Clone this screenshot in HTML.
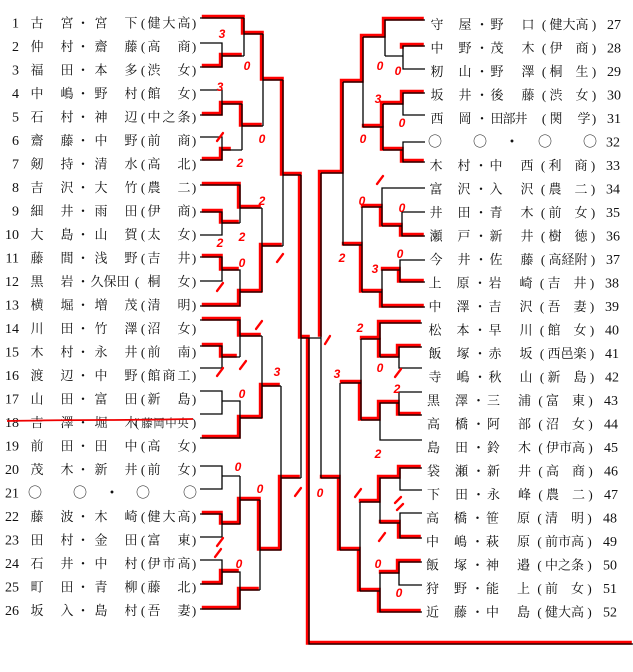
<!DOCTYPE html>
<html><head><meta charset="utf-8">
<style>
html,body{margin:0;padding:0;background:#fff;}
svg{display:block;}
</style></head>
<body>
<svg width="633" height="672" viewBox="0 0 633 672" xmlns="http://www.w3.org/2000/svg">
<rect width="633" height="672" fill="#fff"/>

<!-- red winner lines -->
<g fill="none" stroke="#f00" stroke-width="4" transform="translate(-1.2,-1.2)">
<polyline points="203,18 244,18 244,34 263,34 263,80 283,80 283,175 301,175 301,338 309,338 309,644 633,644"/>
<polyline points="203,67 222,67 222,56 243,56"/>
<polyline points="203,115 222,115 222,104 242,104 242,126 263,126"/>
<polyline points="203,160 222,160 222,150 232,150"/>
<polyline points="203,185 240,185 240,208 262,208"/>
<polyline points="203,212 222,212 222,223 240,223"/>
<polyline points="203,257 222,257 222,270 240,270"/>
<polyline points="203,306 240,306 240,292 262,292 262,246 283,246"/>
<polyline points="203,320 240,320 240,336 262,336"/>
<polyline points="203,346 222,346 222,357 238,357"/>
<polyline points="203,438 240,438 240,418 262,418 262,386 281,386"/>
<polyline points="203,514 222,514 222,524 240,524 240,500 260,500 260,550 281,550 281,478 301,478"/>
<polyline points="203,584 222,584 222,572 240,572"/>
<polyline points="203,609 240,609 240,590 260,590"/>

<polyline points="425,20 385,20 385,37 363,37 363,82 343,82 343,173 321,173 321,338"/>
<polyline points="425,46 403,46 403,50"/>
<polyline points="425,93 403,93 403,104 383,104 383,127 363,127"/>
<polyline points="425,162 403,162 403,150 383,150 383,127"/>
<polyline points="425,236 402,236 402,226 382,226 382,207 362,207"/>
<polyline points="425,282 400,282 400,270 382,270"/>
<polyline points="425,307 382,307 382,292 362,292 362,245 343,245"/>
<polyline points="422,323 380,323 380,339 361,339"/>
<polyline points="422,347 399,347 399,357 380,357 380,339"/>
<polyline points="422,415 399,415 399,403 380,403 380,420 361,420 361,383 341,383"/>
<polyline points="422,468 400,468 400,478 380,478 380,502 360,502"/>
<polyline points="422,538 400,538 400,523 380,523"/>
<polyline points="422,562 399,562 399,573 380,573"/>
<polyline points="422,612 380,612 380,591 360,591 360,550 340,550 340,478 321,478"/>
</g>

<!-- black bracket lines -->
<path fill="none" stroke="#000" stroke-width="1.3" d="
M200 18H244 M200 43H222V67H200 M222 56H244 M244 18V56 M244 34H263
M200 90H222V115H200 M222 104H242 M200 137H222V160H200 M222 150H242 M242 104V150 M242 126H263
M263 34V126 M263 80H283 M283 80V246 M283 175H301
M200 185H240V223 M200 212H222V235H200 M222 223H240 M240 208H262
M200 257H222V281H200 M222 270H240V306H200 M240 292H262 M262 208V292 M262 246H283
M200 320H240V357 M200 346H222V368H200 M222 357H240 M240 336H262
M200 391H222V414H200 M222 401H240V438H200 M240 418H262 M262 336V418 M262 386H281
M200 466H222V489H200 M222 476H240 M200 514H222V537H200 M222 524H240 M240 476V524 M240 500H260
M200 560H222V584H200 M222 572H240V609H200 M240 590H260 M260 500V590 M260 550H281 M281 386V550 M281 478H301
M301 175V478 M301 338H321 M309 338V644H633
M425 20H385V56 M425 46H403V69H425 M403 56H385 M385 37H363
M425 93H403V115H425 M403 104H383 M425 142H403V162H425 M403 150H383 M383 104V150 M383 127H363 M363 37V127 M363 82H343
M343 82V245 M343 173H321
M425 188H382V226 M425 212H402V236H425 M402 226H382 M382 207H362
M425 260H400V282H425 M400 270H382V307H425 M382 292H362 M362 207V292 M362 245H343
M422 323H380V357 M422 347H399V368H422 M399 357H380 M380 339H361
M422 392H399V415H422 M399 403H380V440H422 M380 420H361 M361 339V420 M361 383H341
M422 468H400V490H422 M400 478H380V523 M422 513H400V538H422 M400 523H380 M380 502H360
M422 562H399V585H422 M399 573H380V612H422 M380 591H360 M360 502V591 M360 550H340 M340 383V550 M340 478H321 M321 173V478
"/>

<!-- left entries -->
<g font-family="'Liberation Serif','Noto Serif CJK SC',serif" font-size="13" fill="#111" text-anchor="middle">
<text y="27.7" x="37 67 83 101 131 143 154 169 184 194">古宮・宮下(健大高)</text>
<text y="51.2" x="37 67 83 101 131 143 154 184 194">仲村・齋藤(高商)</text>
<text y="74.7" x="37 67 83 101 131 143 154 184 194">福田・本多(渋女)</text>
<text y="98.2" x="37 67 83 101 131 143 154 184 194">中嶋・野村(館女)</text>
<text y="121.7" x="37 67 83 101 131 143 154 169 184 194">石村・神辺(中之条)</text>
<text y="145.2" x="37 67 83 101 131 143 154 184 194">齋藤・中野(前商)</text>
<text y="168.7" x="37 67 83 101 131 143 154 184 194">剱持・清水(高北)</text>
<text y="192.2" x="37 67 83 101 131 143 154 184 194">吉沢・大竹(農二)</text>
<text y="215.7" x="37 67 83 101 131 143 154 184 194">細井・雨田(伊商)</text>
<text y="239.2" x="37 67 83 101 131 143 154 184 194">大島・山賀(太女)</text>
<text y="262.7" x="37 67 83 101 131 143 154 184 194">藤間・浅野(吉井)</text>
<text y="286.2" x="37 67 83 97 110 123 137 154 184 194">黒岩・久保田(桐女)</text>
<text y="309.7" x="37 67 83 101 131 143 154 184 194">横堀・増茂(清明)</text>
<text y="333.2" x="37 67 83 101 131 143 154 184 194">川田・竹澤(沼女)</text>
<text y="356.7" x="37 67 83 101 131 143 154 184 194">木村・永井(前南)</text>
<text y="380.2" x="37 67 83 101 131 143 154 169 184 194">渡辺・中野(館商工)</text>
<text y="403.7" x="37 67 83 101 131 143 154 184 194">山田・富田(新島)</text>
<text y="427.2" x="37 67 83 101 131 137">吉澤・堀木(<tspan x="147 159 171 183" font-size="11.5">藤岡中央</tspan><tspan x="194">)</tspan></text>
<text y="450.7" x="37 67 83 101 131 143 154 184 194">前田・田中(高女)</text>
<text y="474.2" x="37 67 83 101 131 143 154 184 194">茂木・新井(前女)</text>
<text y="497.7" x="35 80 112 143 190" font-family="'Noto Sans CJK JP',sans-serif" font-size="14">○○・○○</text>
<text y="521.2" x="37 67 83 101 131 143 154 169 184 194">藤波・木崎(健大高)</text>
<text y="544.7" x="37 67 83 101 131 143 154 184 194">田村・金田(富東)</text>
<text y="568.2" x="37 67 83 101 131 143 154 169 184 194">石井・中村(伊市高)</text>
<text y="591.7" x="37 67 83 101 131 143 154 184 194">町田・青柳(藤北)</text>
<text y="615.2" x="37 67 83 101 131 143 154 184 194">坂入・島村(吾妻)</text>
</g>
<g font-family="'Liberation Serif',serif" font-size="14" fill="#111" text-anchor="end">
<text x="19" y="27.7">1</text><text x="19" y="51.2">2</text><text x="19" y="74.7">3</text>
<text x="19" y="98.2">4</text><text x="19" y="121.7">5</text><text x="19" y="145.2">6</text>
<text x="19" y="168.7">7</text><text x="19" y="192.2">8</text><text x="19" y="215.7">9</text>
<text x="19" y="239.2">10</text><text x="19" y="262.7">11</text><text x="19" y="286.2">12</text>
<text x="19" y="309.7">13</text><text x="19" y="333.2">14</text><text x="19" y="356.7">15</text>
<text x="19" y="380.2">16</text><text x="19" y="403.7">17</text><text x="19" y="427.2">18</text>
<text x="19" y="450.7">19</text><text x="19" y="474.2">20</text><text x="19" y="497.7">21</text>
<text x="19" y="521.2">22</text><text x="19" y="544.7">23</text><text x="19" y="568.2">24</text>
<text x="19" y="591.7">25</text><text x="19" y="615.2">26</text>
</g>

<!-- right entries -->
<g font-family="'Liberation Serif','Noto Serif CJK SC',serif" font-size="13" fill="#111" text-anchor="middle">
<g>
<text y="29" x="437 465 482 497 528 544 556 569 582 594">守屋・野口(健大高)</text>
<text y="52.5" x="437 465 482 497 528 544 556 582 594">中野・茂木(伊商)</text>
<text y="76" x="437 465 482 497 528 544 556 582 594">籾山・野澤(桐生)</text>
<text y="99.5" x="437 465 482 497 528 544 556 582 594">坂井・後藤(渋女)</text>
<text y="123" x="437 465 482 497 509 521 544 556 584 594">西岡・田部井(関学)</text>
</g>
<g transform="translate(-1,0)">
<text y="146.5" x="436 481 513 546 591" font-family="'Noto Sans CJK JP',sans-serif" font-size="14">○○・○○</text>
<text y="170" x="437 465 482 497 528 544 556 582 594">木村・中西(利商)</text>
<text y="193.5" x="437 465 482 497 528 544 556 582 594">富沢・入沢(農二)</text>
<text y="217" x="437 465 482 497 528 544 556 582 594">井田・青木(前女)</text>
<text y="240.5" x="437 465 482 497 528 544 556 582 594">瀬戸・新井(樹徳)</text>
<text y="264" x="437 465 482 497 528 544 556 569 582 594">今井・佐藤(高経附)</text>
</g>
<g transform="translate(-2,0)">
<text y="287.5" x="437 465 482 497 528 544 556 582 594">上原・岩崎(吉井)</text>
<text y="311" x="437 465 482 497 528 544 556 582 594">中澤・吉沢(吾妻)</text>
<text y="334.5" x="437 465 482 497 528 544 556 582 594">松本・早川(館女)</text>
<text y="358" x="437 465 482 497 528 544 556 569 582 594">飯塚・赤坂(西邑楽)</text>
<text y="381.5" x="437 465 482 497 528 544 556 582 594">寺嶋・秋山(新島)</text>
</g>
<g transform="translate(-3.5,0)">
<text y="405" x="437 465 482 497 528 544 556 582 594">黒澤・三浦(富東)</text>
<text y="428.5" x="437 465 482 497 528 544 556 582 594">高橋・阿部(沼女)</text>
<text y="452" x="437 465 482 497 528 544 556 569 582 594">島田・鈴木(伊市高)</text>
<text y="475.5" x="437 465 482 497 528 544 556 582 594">袋瀬・新井(高商)</text>
<text y="499" x="437 465 482 497 528 544 556 582 594">下田・永峰(農二)</text>
</g>
<g transform="translate(-4.5,0)">
<text y="522.5" x="437 465 482 497 528 544 556 582 594">高橋・笹原(清明)</text>
<text y="546" x="437 465 482 497 528 544 556 569 582 594">中嶋・萩原(前市高)</text>
<text y="569.5" x="437 465 482 497 528 544 556 569 582 594">飯塚・神邉(中之条)</text>
<text y="593" x="437 465 482 497 528 544 556 582 594">狩野・能上(前女)</text>
<text y="616.5" x="437 465 482 497 528 544 556 569 582 594">近藤・中島(健大高)</text>
</g>
</g>
<g font-family="'Liberation Serif',serif" font-size="14" fill="#111" text-anchor="start">
<text x="607" y="29">27</text><text x="607" y="52.5">28</text><text x="607" y="76">29</text>
<text x="607" y="99.5">30</text><text x="607" y="123">31</text><text x="606" y="146.5">32</text>
<text x="606" y="170">33</text><text x="606" y="193.5">34</text><text x="606" y="217">35</text>
<text x="606" y="240.5">36</text><text x="606" y="264">37</text><text x="605" y="287.5">38</text>
<text x="605" y="311">39</text><text x="605" y="334.5">40</text><text x="605" y="358">41</text>
<text x="605" y="381.5">42</text><text x="604" y="405">43</text><text x="604" y="428.5">44</text>
<text x="604" y="452">45</text><text x="604" y="475.5">46</text><text x="604" y="499">47</text>
<text x="603" y="522.5">48</text><text x="603" y="546">49</text><text x="603" y="569.5">50</text>
<text x="603" y="593">51</text><text x="603" y="616.5">52</text>
</g>

<!-- strike-through row 18 -->
<path d="M7 421 Q60 420 100 420 T193 419" fill="none" stroke="#e00" stroke-width="1.8"/>

<!-- handwritten scores -->
<g font-family="'Liberation Sans',sans-serif" font-size="12" font-weight="bold" font-style="italic" fill="#f00" text-anchor="middle">
<text x="222" y="38">3</text>
<text x="247" y="70">0</text>
<text x="220" y="91">3</text>
<text x="262" y="143">0</text>
<text x="240" y="167">2</text>
<text x="262" y="205">2</text>
<text x="242" y="241">2</text>
<text x="220" y="247">2</text>
<text x="242" y="267">0</text>
<text x="277" y="376">3</text>
<text x="242" y="398">0</text>
<text x="238" y="471">0</text>
<text x="260" y="493">0</text>
<text x="239" y="568">0</text>

<text x="380" y="70">0</text>
<text x="398" y="75">0</text>
<text x="378" y="103">3</text>
<text x="402" y="127">0</text>
<text x="363" y="143">0</text>
<text x="362" y="205">0</text>
<text x="402" y="212">0</text>
<text x="400" y="258">0</text>
<text x="342" y="262">2</text>
<text x="375" y="273">3</text>
<text x="360" y="332">2</text>
<text x="380" y="372">0</text>
<text x="337" y="378">3</text>
<text x="397" y="393">2</text>
<text x="378" y="458">2</text>
<text x="320" y="497">0</text>
<text x="378" y="568">0</text>
<text x="399" y="597">0</text>
</g>
<g stroke="#f00" stroke-width="2.3" stroke-linecap="round">
<line x1="217" y1="141" x2="223" y2="133"/>
<line x1="277" y1="262" x2="283" y2="254"/>
<line x1="217" y1="291" x2="223" y2="283"/>
<line x1="256" y1="329" x2="262" y2="321"/>
<line x1="240" y1="369" x2="246" y2="361"/>
<line x1="217" y1="376" x2="223" y2="368"/>
<line x1="295" y1="496" x2="301" y2="488"/>
<line x1="217" y1="546" x2="223" y2="538"/>
<line x1="215" y1="557" x2="221" y2="549"/>

<line x1="377" y1="184" x2="383" y2="176"/>
<line x1="325" y1="344" x2="330" y2="336"/>
<line x1="395" y1="377" x2="401" y2="369"/>
<line x1="355" y1="497" x2="361" y2="489"/>
<line x1="395" y1="503" x2="401" y2="497"/>
<line x1="397" y1="510" x2="403" y2="504"/>
<line x1="379" y1="541" x2="385" y2="533"/>
</g>
</svg>
</body></html>
